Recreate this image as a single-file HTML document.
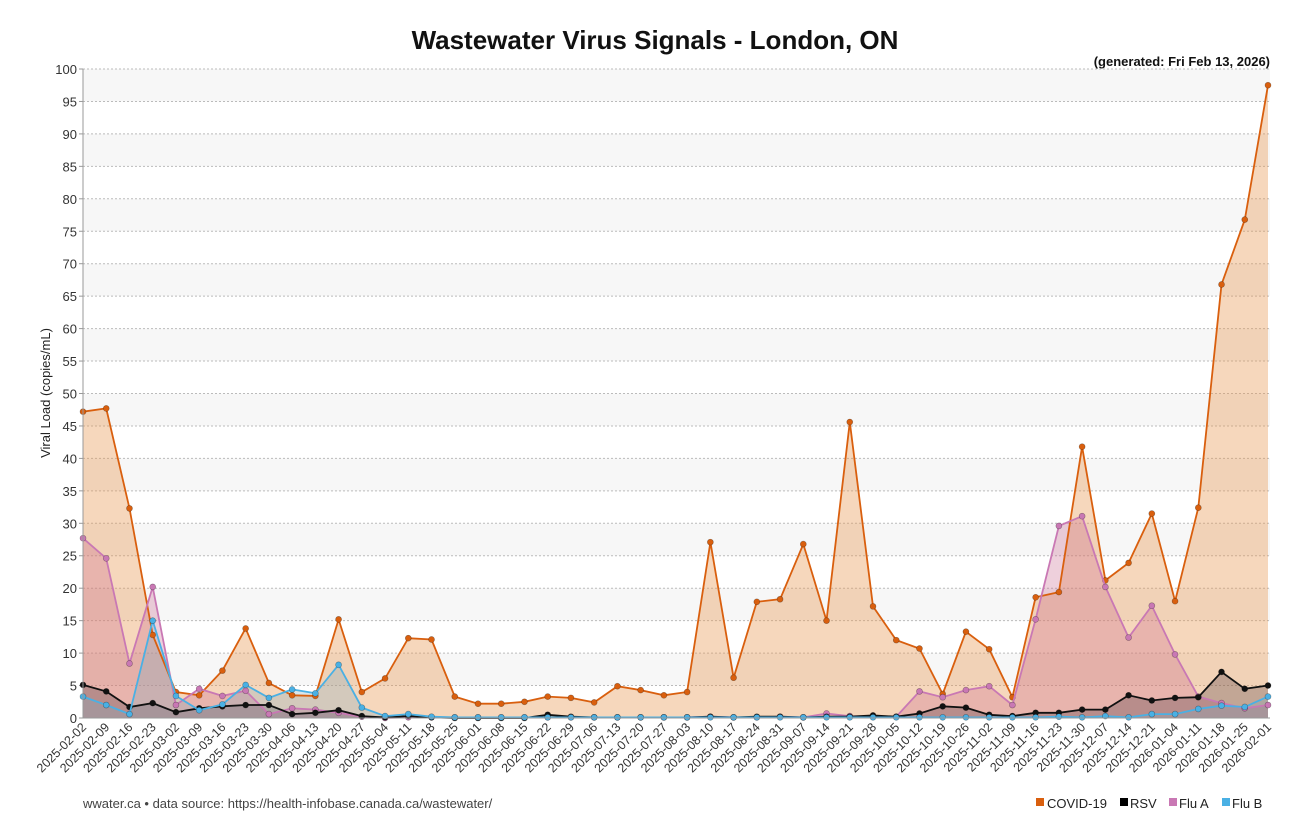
<!DOCTYPE html>
<html><head><meta charset="utf-8"><style>
body{margin:0;background:#fff;}
svg text{font-family:"Liberation Sans","DejaVu Sans",sans-serif;}
</style></head><body>
<svg id="s" width="1305" height="826" xmlns="http://www.w3.org/2000/svg">
<rect width="1305" height="826" fill="#fff"/>
<g id="bands"></g>
<g id="grid"></g>
<g id="series"></g>
<line x1="83" y1="69" x2="83" y2="718" stroke="#999"/>
<line x1="83" y1="718" x2="1270" y2="718" stroke="#999"/>
<text x="655" y="49" font-size="26" font-weight="bold" text-anchor="middle" fill="#111">Wastewater Virus Signals - London, ON</text>
<text x="1270" y="66" font-size="13" font-weight="bold" text-anchor="end" fill="#111">(generated: Fri Feb 13, 2026)</text>
<text transform="translate(50,393) rotate(-90)" font-size="13" text-anchor="middle" fill="#222">Viral Load (copies/mL)</text>
<g font-size="13" fill="#333" text-anchor="end">
<text x="77" y="723">0</text><text x="77" y="690.5">5</text><text x="77" y="658.1">10</text><text x="77" y="625.6">15</text><text x="77" y="593.2">20</text><text x="77" y="560.7">25</text><text x="77" y="528.3">30</text><text x="77" y="495.8">35</text><text x="77" y="463.4">40</text><text x="77" y="430.9">45</text>
<text x="77" y="398.5">50</text><text x="77" y="366">55</text><text x="77" y="333.6">60</text><text x="77" y="301.2">65</text><text x="77" y="268.7">70</text><text x="77" y="236.3">75</text><text x="77" y="203.8">80</text><text x="77" y="171.4">85</text><text x="77" y="138.9">90</text><text x="77" y="106.5">95</text><text x="77" y="74">100</text>
</g>
<g id="xl" font-size="12.5" fill="#333" text-anchor="end">
<text>2025-02-02</text><text>2025-02-09</text><text>2025-02-16</text><text>2025-02-23</text><text>2025-03-02</text><text>2025-03-09</text><text>2025-03-16</text><text>2025-03-23</text><text>2025-03-30</text><text>2025-04-06</text><text>2025-04-13</text><text>2025-04-20</text><text>2025-04-27</text><text>2025-05-04</text><text>2025-05-11</text><text>2025-05-18</text><text>2025-05-25</text><text>2025-06-01</text><text>2025-06-08</text><text>2025-06-15</text><text>2025-06-22</text><text>2025-06-29</text><text>2025-07-06</text><text>2025-07-13</text><text>2025-07-20</text><text>2025-07-27</text><text>2025-08-03</text><text>2025-08-10</text><text>2025-08-17</text><text>2025-08-24</text><text>2025-08-31</text><text>2025-09-07</text><text>2025-09-14</text><text>2025-09-21</text><text>2025-09-28</text><text>2025-10-05</text><text>2025-10-12</text><text>2025-10-19</text><text>2025-10-26</text><text>2025-11-02</text><text>2025-11-09</text><text>2025-11-16</text><text>2025-11-23</text><text>2025-11-30</text><text>2025-12-07</text><text>2025-12-14</text><text>2025-12-21</text><text>2026-01-04</text><text>2026-01-11</text><text>2026-01-18</text><text>2026-01-25</text><text>2026-02-01</text>
</g>
<text x="83" y="808" font-size="13" fill="#444">wwater.ca • data source: https://health-infobase.canada.ca/wastewater/</text>
<g font-size="13" fill="#222">
<rect x="1036" y="798" width="8" height="8" fill="#d95f0e"/><text x="1047" y="808">COVID-19</text>
<rect x="1120" y="798" width="8" height="8" fill="#000"/><text x="1130" y="808">RSV</text>
<rect x="1169" y="798" width="8" height="8" fill="#c978b4"/><text x="1179" y="808">Flu A</text>
<rect x="1222" y="798" width="8" height="8" fill="#4ab0e4"/><text x="1232" y="808">Flu B</text>
</g>
</svg>
<script>
var X0=83,DX=(1268-83)/51,Y0=718,SC=6.49;
function px(i){return X0+i*DX} function py(v){return Y0-v*SC}
var NS="http://www.w3.org/2000/svg";
function el(p,t,a){var e=document.createElementNS(NS,t);for(var k in a)e.setAttribute(k,a[k]);p.appendChild(e);return e}
var bands=document.getElementById('bands'),grid=document.getElementById('grid');
for(var v=0;v<100;v+=5){ if((v/5)%2==1) el(bands,'rect',{x:83,y:py(v+5),width:1187,height:5*SC,fill:'#f7f7f7'}); }
for(var v=5;v<=100;v+=5){ el(grid,'line',{x1:83,x2:1270,y1:py(v),y2:py(v),stroke:'#bbb','stroke-dasharray':'2,2'}); }
for(var v=0;v<=100;v+=5){ el(grid,'line',{x1:79,x2:83,y1:py(v),y2:py(v),stroke:'#999'}); }
var xs=document.getElementById('xl').children;
for(var i=0;i<xs.length;i++){ var x=px(i)+4,y=728; xs[i].setAttribute('transform','translate('+x+','+y+') rotate(-45)'); }
var D={
c:[47.2,47.7,32.3,12.8,4.0,3.5,7.3,13.8,5.4,3.5,3.4,15.2,4.0,6.1,12.3,12.1,3.3,2.2,2.2,2.5,3.3,3.1,2.4,4.9,4.3,3.5,4.0,27.1,6.2,17.9,18.3,26.8,15.0,45.6,17.2,12.0,10.7,3.7,13.3,10.6,3.2,18.6,19.4,41.8,21.2,23.9,31.5,18.0,32.4,66.8,76.8,97.5],
a:[27.7,24.6,8.4,20.2,2.0,4.5,3.4,4.2,0.6,1.5,1.3,0.8,0.2,0,0.1,0.1,0.1,0.1,0.1,0.1,0.1,0.1,0.1,0.1,0.1,0.1,0.1,0.2,0.1,0.1,0.2,0.1,0.7,0.3,0.2,0.2,4.1,3.2,4.3,4.9,2.0,15.2,29.6,31.1,20.2,12.4,17.3,9.8,3.3,2.3,1.5,2.0],
r:[5.1,4.1,1.7,2.3,0.9,1.5,1.8,2.0,2.0,0.6,0.8,1.2,0.3,0.1,0.3,0.1,0,0,0,0,0.5,0.2,0.1,0.1,0.1,0.1,0.1,0.2,0.1,0.2,0.2,0.1,0.2,0.2,0.4,0.2,0.7,1.8,1.6,0.5,0.3,0.8,0.8,1.3,1.3,3.5,2.7,3.1,3.2,7.1,4.5,5.0],
b:[3.3,2.0,0.6,15.0,3.4,1.2,2.1,5.1,3.1,4.4,3.8,8.2,1.6,0.3,0.6,0.2,0.1,0.1,0.1,0.1,0.1,0.1,0.1,0.1,0.1,0.1,0.1,0.1,0.1,0.1,0.1,0.1,0.1,0.1,0.1,0.1,0.1,0.1,0.1,0.1,0.1,0.1,0.2,0.1,0.3,0.1,0.6,0.6,1.4,1.9,1.7,3.3]};
var S=[['c','#d95f0e','rgba(232,150,80,0.38)'],['a','#c978b4','rgba(200,100,140,0.3)'],['r','#111','rgba(60,40,50,0.28)'],['b','#4ab0e4','rgba(130,170,190,0.3)']];
var g=document.getElementById('series');
S.forEach(function(q){var d=D[q[0]],p='';d.forEach(function(v,i){p+=(i?'L':'M')+px(i).toFixed(1)+','+py(v).toFixed(1)});
el(g,'path',{d:p+'L'+px(51)+','+Y0+'L'+px(0)+','+Y0+'Z',fill:q[2]});});
S.forEach(function(q){var d=D[q[0]],p='';d.forEach(function(v,i){p+=(i?'L':'M')+px(i).toFixed(1)+','+py(v).toFixed(1)});
el(g,'path',{d:p,fill:'none',stroke:q[1],'stroke-width':1.8});
d.forEach(function(v,i){el(g,'circle',{cx:px(i),cy:py(v),r:3,fill:q[1],stroke:'rgba(0,0,0,0.35)','stroke-width':0.6})});});
</script>
</body></html>
